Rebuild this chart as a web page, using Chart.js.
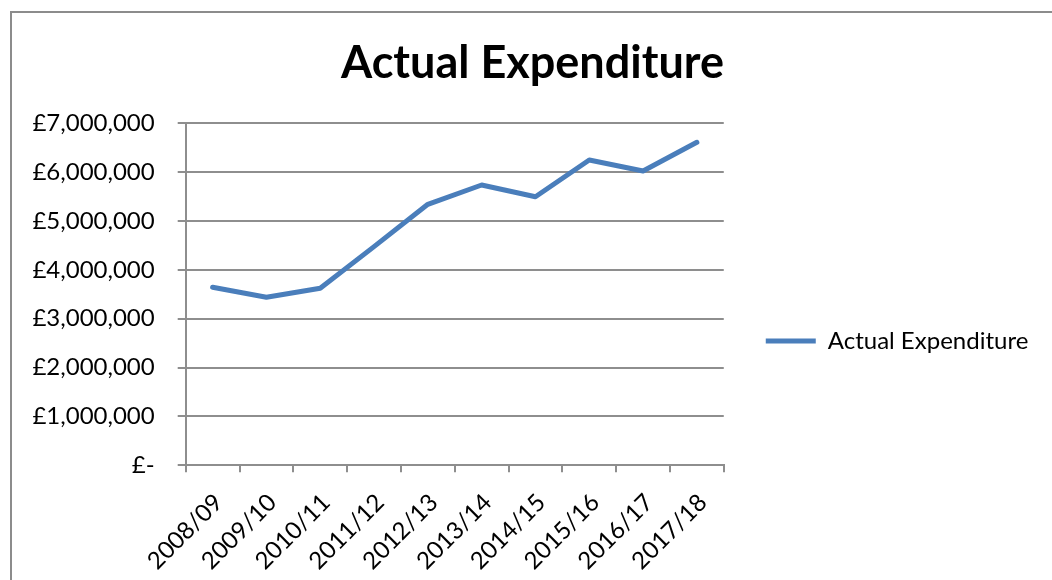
<!DOCTYPE html>
<html>
<head>
<meta charset="utf-8">
<title>Actual Expenditure</title>
<script src="https://cdn.jsdelivr.net/npm/chart.js@4.4.1/dist/chart.umd.min.js"></script>
<style>
    body { margin: 0; background: #fff; }
    #frame {
        position: absolute;
        left: 10px;
        top: 11px;
        width: 1100px;
        height: 700px;
        border-left: 2px solid #8c8c8c;
        border-top: 2px solid #8c8c8c;
    }
    #chart { position: absolute; left: 0; top: 0; }
</style>
</head>
<body>
<div id="frame"></div>
<canvas id="chart" width="1052" height="580"></canvas>
<script>
// Financial years on the x axis
const years = ["2008/09", "2009/10", "2010/11", "2011/12", "2012/13",
               "2013/14", "2014/15", "2015/16", "2016/17", "2017/18"];

// Actual expenditure in pounds
const expenditure = [3643000, 3438000, 3623000, 4476000, 5342000,
                     5737000, 5497000, 6248000, 6023000, 6611000];

// Y axis range and step
const yMin = 0;
const yMax = 7000000;
const yStep = 1000000;

const gridGrey = "#8e8e8e";
const lineBlue = "#4a7ebb";

// Label format like Excel's accounting style
function poundLabel(value) {
    if (value === 0) {
        return "£-";
    }
    return "£" + value.toLocaleString("en-GB");
}

const ctx = document.getElementById("chart").getContext("2d");

new Chart(ctx, {
    type: "line",
    data: {
        labels: years,
        datasets: [
            {
                label: "Actual Expenditure",
                data: expenditure,
                borderColor: lineBlue,
                backgroundColor: lineBlue,
                borderWidth: 5,
                borderCapStyle: "round",
                borderJoinStyle: "round",
                pointRadius: 0,
                pointHoverRadius: 0,
                tension: 0,
                fill: false,
            },
        ],
    },
    options: {
        responsive: false,
        animation: false,
        layout: {
            padding: { left: 26.7, right: 13.7, top: 0, bottom: 0 },
        },
        plugins: {
            title: {
                display: true,
                text: "Actual Expenditure",
                color: "#000",
                font: { family: "Lato", size: 45, weight: "bold", lineHeight: 1.2 },
                padding: { top: 36, bottom: 33.3 },
            },
            legend: {
                position: "right",
                maxWidth: 327.7,
                // empty legend title, only used to push the entry down
                title: {
                    display: true,
                    text: "",
                    font: { size: 10, lineHeight: 1 },
                    padding: { top: 0, bottom: 92 },
                },
                labels: {
                    usePointStyle: true,
                    pointStyle: "line",
                    pointStyleWidth: 50,
                    padding: 42,
                    color: "#000",
                    font: { family: "Lato", size: 24 },
                },
            },
            tooltip: { enabled: false },
        },
        scales: {
            x: {
                offset: true,
                afterFit: function (scale) {
                    scale.height = 114.7;
                },
                grid: {
                    offset: true,
                    drawOnChartArea: false,
                    drawTicks: true,
                    tickLength: 7,
                    lineWidth: 2,
                    color: gridGrey,
                },
                border: { color: gridGrey, width: 2 },
                ticks: {
                    autoSkip: false,
                    minRotation: 45,
                    maxRotation: 45,
                    padding: 16,
                    labelOffset: 6,
                    color: "#000",
                    font: { family: "Lato", size: 24 },
                },
            },
            y: {
                min: yMin,
                max: yMax,
                afterFit: function (scale) {
                    scale.width = 159;
                },
                grid: {
                    color: gridGrey,
                    lineWidth: 2,
                    drawTicks: true,
                    tickLength: 8,
                },
                border: { color: gridGrey, width: 2 },
                ticks: {
                    stepSize: yStep,
                    padding: 23,
                    color: "#000",
                    font: { family: "Lato", size: 24 },
                    callback: function (value) {
                        return poundLabel(value);
                    },
                },
            },
        },
    },
});
</script>
</body>
</html>
